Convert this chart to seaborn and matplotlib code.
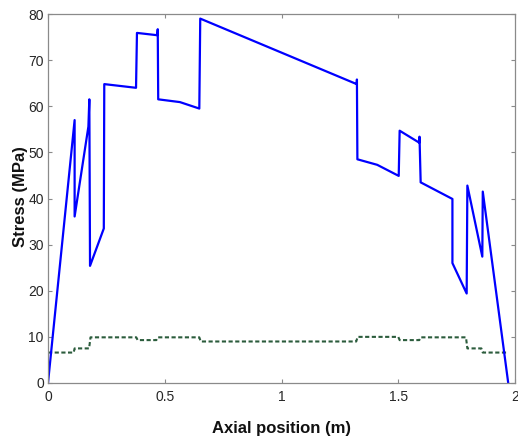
import matplotlib
matplotlib.use("Agg")
import matplotlib.pyplot as plt
import seaborn as sns
import pandas as pd

# Axial stress along the member (MPa)
stress_x = [0.0, 0.114, 0.114, 0.173, 0.177, 0.180, 0.239, 0.241, 0.377, 0.381,
            0.468, 0.470, 0.472, 0.565, 0.648, 0.652, 1.322, 1.323, 1.325, 1.410,
            1.502, 1.506, 1.590, 1.591, 1.596, 1.732, 1.732, 1.793, 1.796, 1.860,
            1.862, 1.971]
stress_y = [0.0, 57.0, 36.1, 55.6, 61.5, 25.4, 33.5, 64.8, 64.0, 75.9,
            75.4, 76.7, 61.5, 60.9, 59.5, 79.0, 64.8, 65.8, 48.5, 47.3,
            44.9, 54.7, 52.1, 53.4, 43.5, 39.9, 26.0, 19.4, 42.8, 27.4,
            41.5, 0.0]

# Stepwise reference stress level (MPa)
level_x = [0.0, 0.110, 0.114, 0.176, 0.182, 0.378, 0.384, 0.464, 0.470, 0.648,
           0.654, 1.320, 1.326, 1.500, 1.506, 1.590, 1.596, 1.790, 1.796, 1.856,
           1.862, 1.962]
level_y = [6.6, 6.6, 7.5, 7.5, 9.9, 9.9, 9.3, 9.3, 9.9, 9.9,
           9.0, 9.0, 10.0, 10.0, 9.3, 9.3, 9.9, 9.9, 7.5, 7.5,
           6.6, 6.6]

x_ticks = [0, 0.5, 1, 1.5, 2]
x_tick_labels = ["0", "0.5", "1", "1.5", "2"]
y_ticks = [0, 10, 20, 30, 40, 50, 60, 70, 80]

sns.set_theme(style="white")
plt.rcParams["font.family"] = ["Liberation Sans", "DejaVu Sans"]

fig = plt.figure(figsize=(5.18, 4.37), dpi=100)
ax = fig.add_axes([48 / 518, 1 - 383 / 437, 467 / 518, 369 / 437])

stress_df = pd.DataFrame({"x": stress_x, "y": stress_y})
level_df = pd.DataFrame({"x": level_x, "y": level_y})

sns.lineplot(data=level_df, x="x", y="y", sort=False, estimator=None, ax=ax,
             color="#2b5c3c", linewidth=1.5, linestyle=(0, (2.0, 1.2)))
sns.lineplot(data=stress_df, x="x", y="y", sort=False, estimator=None, ax=ax,
             color="#0000ff", linewidth=1.6)

ax.set_xlim(0, 2)
ax.set_ylim(0, 80)
ax.set_xticks(x_ticks)
ax.set_xticklabels(x_tick_labels)
ax.set_yticks(y_ticks)

spine_color = "#8a8a8a"
for s in ax.spines.values():
    s.set_visible(True)
    s.set_color(spine_color)
    s.set_linewidth(0.9)

ax.tick_params(axis="both", which="major", direction="in", length=3,
               width=0.8, color=spine_color, labelsize=10, labelcolor="#262626",
               top=True, right=True, bottom=True, left=True,
               labeltop=False, labelright=False)
ax.tick_params(axis="x", pad=5)
ax.tick_params(axis="y", pad=3)

ax.set_xlabel("Axial position (m)", fontsize=12, fontweight="bold",
              color="#111111")
ax.xaxis.label.set_va("baseline")
ax.xaxis.set_label_coords(0.5, (383 - 433) / 369)

ax.set_ylabel("Stress (MPa)", fontsize=12, fontweight="bold",
              color="#111111")
ax.yaxis.label.set_va("center")
ax.yaxis.set_label_coords((20.5 - 48) / 467, (383 - 197) / 369)

fig.savefig("out.png", dpi=100)
